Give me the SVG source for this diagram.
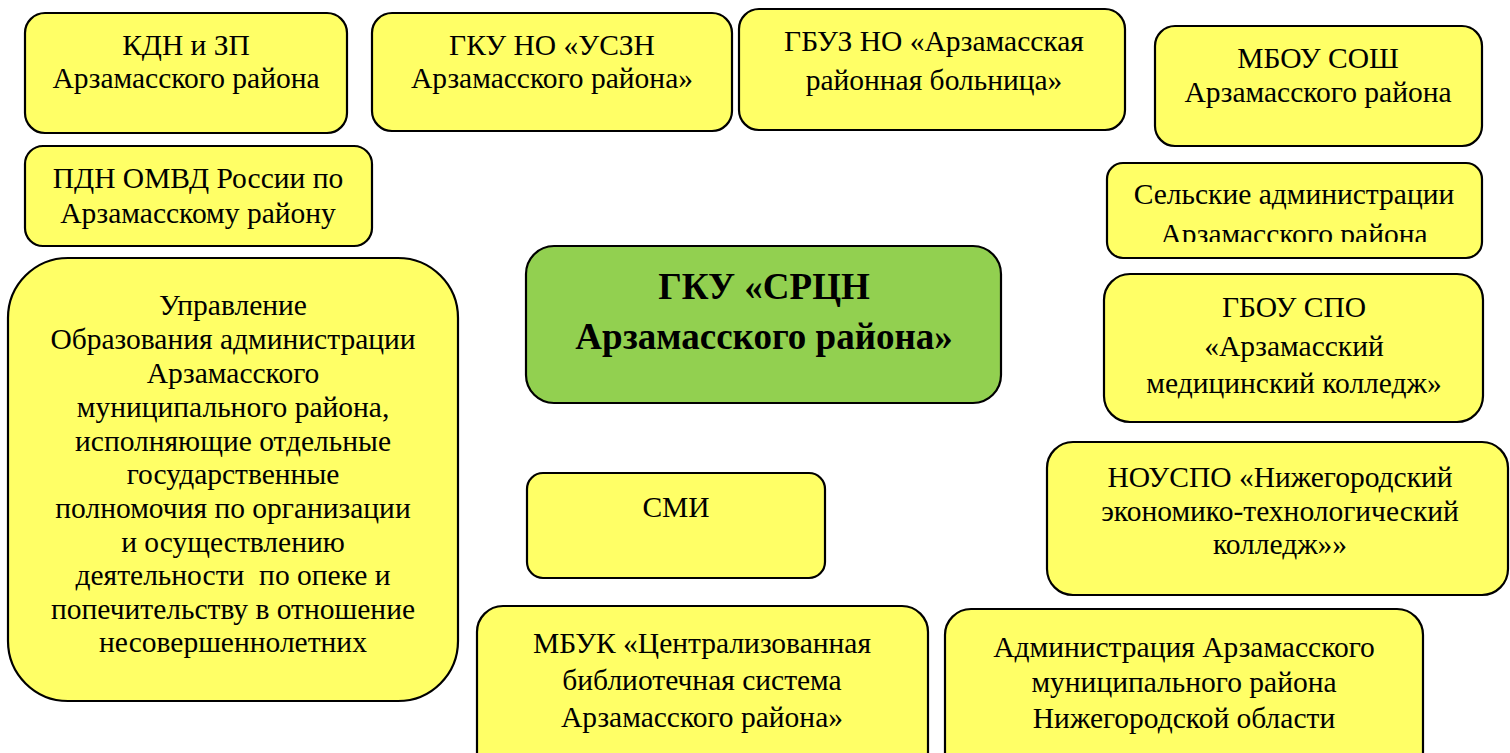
<svg xmlns="http://www.w3.org/2000/svg" width="1510" height="753" viewBox="0 0 1510 753">
<style>
.box{fill:#FFFF66;stroke:#000;stroke-width:2.2}
.main{fill:#92D050;stroke:#000;stroke-width:2.2}
.t{font-family:"Liberation Serif","Times New Roman",serif;font-size:29.5px;fill:#000;text-anchor:middle}
.tb{font-family:"Liberation Serif","Times New Roman",serif;font-size:37px;font-weight:bold;fill:#000;text-anchor:middle}
</style>
<defs>
<clipPath id="clipSel"><rect x="1100" y="160" width="400" height="82"/></clipPath>
</defs>
<rect width="1510" height="753" fill="#fff"/>
<g id="connectors"></g>
<g id="kdn">
<rect class="box" x="25" y="13" width="322" height="120" rx="20"/>
<text class="t" x="186" y="55">КДН и ЗП</text>
<text class="t" x="186" y="88">Арзамасского района</text>
</g>
<g id="uszn">
<rect class="box" x="372" y="13" width="360" height="118" rx="20"/>
<text class="t" x="552" y="55">ГКУ НО «УСЗН</text>
<text class="t" x="552" y="88">Арзамасского района»</text>
</g>
<g id="gbuz">
<rect class="box" x="739" y="9" width="386" height="121" rx="20"/>
<text class="t" x="934" y="51">ГБУЗ НО «Арзамасская</text>
<text class="t" x="934" y="90">районная больница»</text>
</g>
<g id="mbou">
<rect class="box" x="1155" y="26" width="327" height="120" rx="20"/>
<text class="t" x="1318" y="68">МБОУ СОШ</text>
<text class="t" x="1318" y="102">Арзамасского района</text>
</g>
<g id="pdn">
<rect class="box" x="25" y="146" width="347" height="100" rx="18"/>
<text class="t" x="198" y="188">ПДН ОМВД России по</text>
<text class="t" x="198" y="223">Арзамасскому району</text>
</g>
<g id="selskie">
<rect class="box" x="1107" y="163" width="375" height="95" rx="16"/>
<text class="t" x="1294" y="204">Сельские администрации</text>
<text class="t" x="1294" y="244" clip-path="url(#clipSel)">Арзамасского района</text>
</g>
<g id="upravlenie">
<rect class="box" x="8" y="258" width="450" height="443" rx="60"/>
<text class="t" x="233" y="315">Управление</text>
<text class="t" x="233" y="349">Образования администрации</text>
<text class="t" x="233" y="383">Арзамасского</text>
<text class="t" x="233" y="417">муниципального района,</text>
<text class="t" x="233" y="451">исполняющие отдельные</text>
<text class="t" x="233" y="484">государственные</text>
<text class="t" x="233" y="518">полномочия по организации</text>
<text class="t" x="233" y="552">и осуществлению</text>
<text class="t" x="233" y="585" xml:space="preserve">деятельности  по опеке и</text>
<text class="t" x="233" y="619">попечительству в отношение</text>
<text class="t" x="233" y="652">несовершеннолетних</text>
</g>
<g id="srcn">
<rect class="main" x="526" y="246" width="475" height="157" rx="28"/>
<text class="tb" x="764" y="299">ГКУ «СРЦН</text>
<text class="tb" x="764" y="349">Арзамасского района»</text>
</g>
<g id="gbou">
<rect class="box" x="1104" y="274" width="379" height="148" rx="26"/>
<text class="t" x="1294" y="317">ГБОУ СПО</text>
<text class="t" x="1294" y="356">«Арзамасский</text>
<text class="t" x="1294" y="393">медицинский колледж»</text>
</g>
<g id="nouspo">
<rect class="box" x="1047" y="442" width="461" height="153" rx="26"/>
<text class="t" x="1280" y="487">НОУСПО «Нижегородский</text>
<text class="t" x="1280" y="521">экономико-технологический</text>
<text class="t" x="1280" y="554">колледж»»</text>
</g>
<g id="smi">
<rect class="box" x="527" y="473" width="298" height="105" rx="16"/>
<text class="t" x="676" y="517">СМИ</text>
</g>
<g id="mbuk">
<rect class="box" x="477" y="606" width="451" height="180" rx="26"/>
<text class="t" x="702" y="653">МБУК «Централизованная</text>
<text class="t" x="702" y="690">библиотечная система</text>
<text class="t" x="702" y="727">Арзамасского района»</text>
</g>
<g id="admin">
<rect class="box" x="945" y="609" width="478" height="180" rx="26"/>
<text class="t" x="1184" y="657">Администрация Арзамасского</text>
<text class="t" x="1184" y="692">муниципального района</text>
<text class="t" x="1184" y="728">Нижегородской области</text>
</g>
</svg>
